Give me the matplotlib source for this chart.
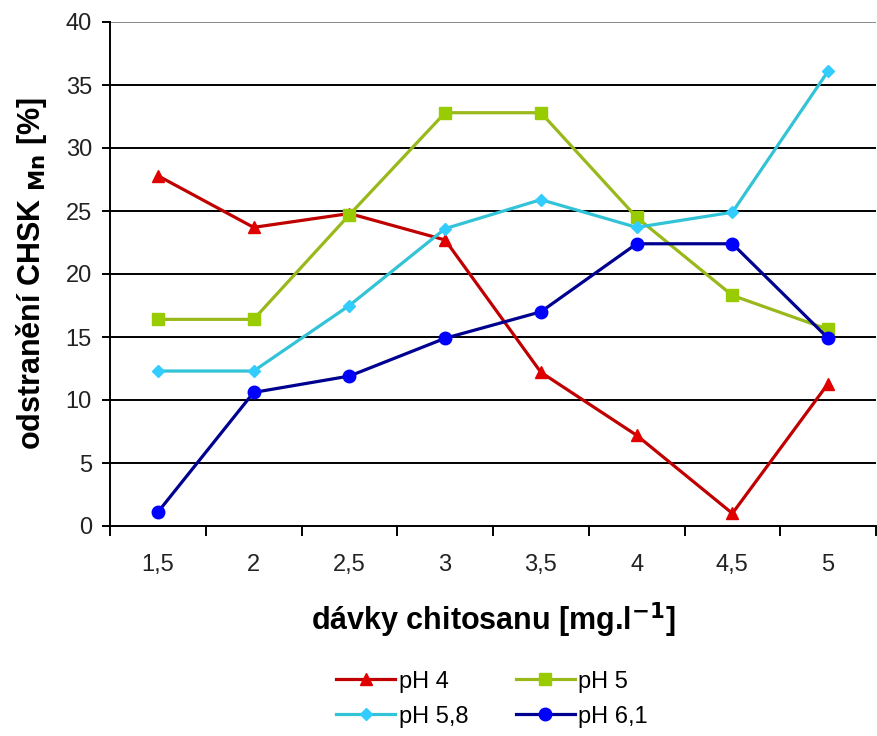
import matplotlib
matplotlib.use("Agg")
import matplotlib.pyplot as plt
import numpy as np

plt.rcParams['font.family'] = ['Liberation Sans', 'DejaVu Sans']

# Chitosan doses (categories) and removal efficiency per pH
doses = ["1,5", "2", "2,5", "3", "3,5", "4", "4,5", "5"]
ph4 = [27.8, 23.7, 24.8, 22.7, 12.2, 7.2, 1.0, 11.3]
ph5 = [16.4, 16.4, 24.7, 32.8, 32.8, 24.5, 18.3, 15.6]
ph58 = [12.3, 12.3, 17.5, 23.6, 25.9, 23.7, 24.9, 36.1]
ph61 = [1.1, 10.6, 11.9, 14.9, 17.0, 22.4, 22.4, 14.9]
series_labels = ["pH 4", "pH 5", "pH 5,8", "pH 6,1"]
y_ticks = [0, 5, 10, 15, 20, 25, 30, 35, 40]

fig = plt.figure(figsize=(8.77, 7.36), dpi=100)
ax = fig.add_axes([110 / 877, 210 / 736, 766 / 877, 504 / 736])

x = np.arange(len(doses))

styles = [
    dict(data=ph4, color="#C00000", mfc="#E00000", marker="^", ms=8),
    dict(data=ph5, color="#99B81A", mfc="#99CC00", marker="s", ms=9),
    dict(data=ph58, color="#33C3D6", mfc="#33CCFF", marker="D", ms=6),
    dict(data=ph61, color="#000090", mfc="#0000FF", marker="o", ms=9),
]
handles = []
for st, lab in zip(styles, series_labels):
    h, = ax.plot(x, st["data"], color=st["color"], lw=2.3, marker=st["marker"],
                 ms=st["ms"], mfc=st["mfc"], mec=st["mfc"], label=lab, zorder=3)
    handles.append(h)

ax.set_xlim(-0.5, len(doses) - 0.5)
ax.set_ylim(0, 40)

# horizontal gridlines
for v in y_ticks[1:-1]:
    ax.axhline(v, color="black", lw=1.4, zorder=1)
ax.axhline(40, color="#888888", lw=1.4, zorder=1)

for s in ["top", "right"]:
    ax.spines[s].set_visible(False)
for s in ["left", "bottom"]:
    ax.spines[s].set_linewidth(1.4)
    ax.spines[s].set_color("black")

ax.set_yticks(y_ticks)
ax.set_yticklabels([str(v) for v in y_ticks], fontsize=17, color="#222222")
ax.tick_params(axis="y", length=6, width=1.4, pad=7)

ax.set_xticks(x)
ax.set_xticklabels(doses, fontsize=17, color="#222222")
ax.tick_params(axis="x", which="major", length=0, pad=20)
ax.set_xticks(np.arange(len(doses) + 1) - 0.5, minor=True)
ax.tick_params(axis="x", which="minor", length=7, width=1.4)

ax.set_xlabel("dávky chitosanu [mg.l$^{\\mathbf{-1}}$]", fontsize=22,
              fontweight="bold", labelpad=18)
ax.set_ylabel("odstranění CHSK $_{\\mathbf{Mn}}$ [%]", fontsize=22,
              fontweight="bold", labelpad=12)

# two columns filled row by row
order = [0, 2, 1, 3]
fig.legend([handles[i] for i in order], [series_labels[i] for i in order],
           loc="center", bbox_to_anchor=(0.561, 0.050), ncol=2,
           frameon=False, fontsize=17, handlelength=2.5, columnspacing=2.0,
           labelspacing=0.55, handletextpad=0.15)

fig.savefig("out.png", dpi=100)
